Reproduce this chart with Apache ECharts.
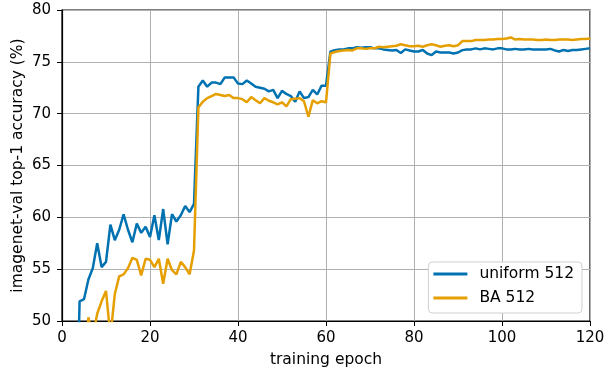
<!DOCTYPE html>
<html>
<head>
<meta charset="utf-8">
<script src="https://cdn.jsdelivr.net/npm/echarts@6/dist/echarts.min.js"></script>
<style>html,body{margin:0;padding:0;background:#fff}#c{width:605px;height:371px}</style>
</head>
<body>
<div id="c"></div>
<script>
const uniformStart = 3;
const uniform512 = [
  35, 51.9, 52.1, 54.0, 55.1, 57.5, 55.2, 55.7, 59.3, 57.8,
  58.8, 60.3, 58.8, 57.6, 59.4, 58.5, 59.1, 58.1, 60.2, 57.8,
  60.8, 57.4, 60.3, 59.6, 60.2, 61.1, 60.5, 61.3,
  72.6, 73.2, 72.6, 73.0, 73.0, 72.85, 73.5, 73.5, 73.5, 72.9,
  72.85, 73.2, 72.9, 72.6, 72.5, 72.4, 72.15, 72.3, 71.5, 72.2,
  71.9, 71.7, 71.15, 72.15, 71.5, 71.6, 72.3, 71.85, 72.7, 72.7,
  75.97, 76.13, 76.2, 76.2, 76.3, 76.3, 76.4, 76.35, 76.4, 76.4,
  76.3, 76.3, 76.2, 76.15, 76.1, 76.15, 75.85, 76.2, 76.1, 76.0,
  76.0, 76.15, 75.8, 75.65, 76.0, 75.9, 75.9, 75.9, 75.8, 75.9,
  76.13, 76.2, 76.2, 76.3, 76.2, 76.3, 76.25, 76.2, 76.3, 76.3,
  76.2, 76.2, 76.25, 76.2, 76.2, 76.25, 76.2, 76.2, 76.2, 76.2,
  76.25, 76.1, 76.0, 76.15, 76.05, 76.15, 76.15, 76.2, 76.25, 76.3
];
const baStart = 5;
const ba512 = [
  44, 50.35, 48.5, 50.7, 51.9, 52.9, 48.5, 52.6, 54.3, 54.5,
  55.1, 56.1, 55.9, 54.4, 56.0, 55.9, 55.2, 56.0, 53.6, 56.0,
  54.9, 54.5, 55.7, 55.2, 54.5, 56.8,
  70.6, 71.15, 71.5, 71.7, 71.9, 71.8, 71.7, 71.8, 71.5, 71.5,
  71.4, 71.1, 71.6, 71.3, 71.0, 71.5, 71.25, 71.1, 70.9, 71.1,
  70.7, 71.4, 71.45, 71.5, 71.2, 69.7, 71.3, 71.0, 71.2, 71.1,
  75.8, 75.95, 76.05, 76.1, 76.15, 76.1, 76.3, 76.3, 76.25, 76.3,
  76.3, 76.45, 76.4, 76.45, 76.5, 76.55, 76.7, 76.6, 76.5, 76.5,
  76.55, 76.45, 76.6, 76.7, 76.6, 76.45, 76.55, 76.6, 76.5, 76.6,
  77.0, 77.0, 77.0, 77.1, 77.1, 77.1, 77.15, 77.15, 77.2, 77.2,
  77.25, 77.35, 77.15, 77.2, 77.15, 77.15, 77.15, 77.1, 77.1, 77.15,
  77.1, 77.1, 77.15, 77.15, 77.15, 77.1, 77.15, 77.2, 77.2, 77.25
];
const seriesNames = ['uniform 512', 'BA 512'];
const xTicks = [0, 20, 40, 60, 80, 100, 120];
const yTicks = [50, 55, 60, 65, 70, 75, 80];

function pairs(start, vals) { return vals.map((v, i) => [start + i, v]); }

const font = 'DejaVu Sans';
const fs = 15;
const chart = echarts.init(document.getElementById('c'), null, {renderer: 'canvas'});
chart.setOption({
  animation: false,
  backgroundColor: '#fff',
  grid: {left: 62, right: 15, top: 10, bottom: 50, show: true, borderColor: '#000', borderWidth: 1.2,
         containLabel: false, outerBoundsMode: 'none'},
  xAxis: {
    type: 'value', min: xTicks[0], max: xTicks[xTicks.length - 1], interval: 20,
    name: 'training epoch', nameLocation: 'middle', nameGap: 31, nameMoveOverlap: false,
    nameTextStyle: {fontFamily: font, fontSize: 15.5, color: '#000'},
    axisLine: {show: true, lineStyle: {color: '#000', width: 1.2}},
    axisTick: {show: true, length: 5, lineStyle: {color: '#000'}},
    axisLabel: {margin: 10, fontFamily: font, fontSize: fs, color: '#000'},
    splitLine: {show: true, lineStyle: {color: '#b0b0b0', width: 1}}
  },
  yAxis: {
    type: 'value', min: yTicks[0], max: yTicks[yTicks.length - 1], interval: 5,
    name: 'imagenet-val top-1 accuracy (%)', nameLocation: 'middle', nameGap: 36, nameMoveOverlap: false,
    nameTextStyle: {fontFamily: font, fontSize: 15.5, color: '#000'},
    axisLine: {show: true, lineStyle: {color: '#000', width: 1.2}},
    axisTick: {show: true, length: 5, lineStyle: {color: '#000'}},
    axisLabel: {margin: 11, fontFamily: font, fontSize: fs, color: '#000'},
    splitLine: {show: true, lineStyle: {color: '#b0b0b0', width: 1}}
  },
  legend: {
    right: 23, bottom: 58, orient: 'vertical',
    backgroundColor: '#fff', borderColor: '#d0d0d0', borderWidth: 1, borderRadius: 4,
    padding: [3, 8, 6, 5], itemGap: 6, itemWidth: 34, itemHeight: 3, icon: 'rect',
    textStyle: {fontFamily: font, fontSize: 15.5, lineHeight: 18, color: '#000', padding: [0, 0, 0, 7]},
    data: seriesNames
  },
  series: [
    {name: seriesNames[0], type: 'line', data: pairs(uniformStart, uniform512), showSymbol: false,
     lineStyle: {color: '#0072B2', width: 2.5}, itemStyle: {color: '#0072B2'}, clip: true},
    {name: seriesNames[1], type: 'line', data: pairs(baStart, ba512), showSymbol: false,
     lineStyle: {color: '#E69F00', width: 2.5}, itemStyle: {color: '#E69F00'}, clip: true}
  ]
});
</script>
</body>
</html>
